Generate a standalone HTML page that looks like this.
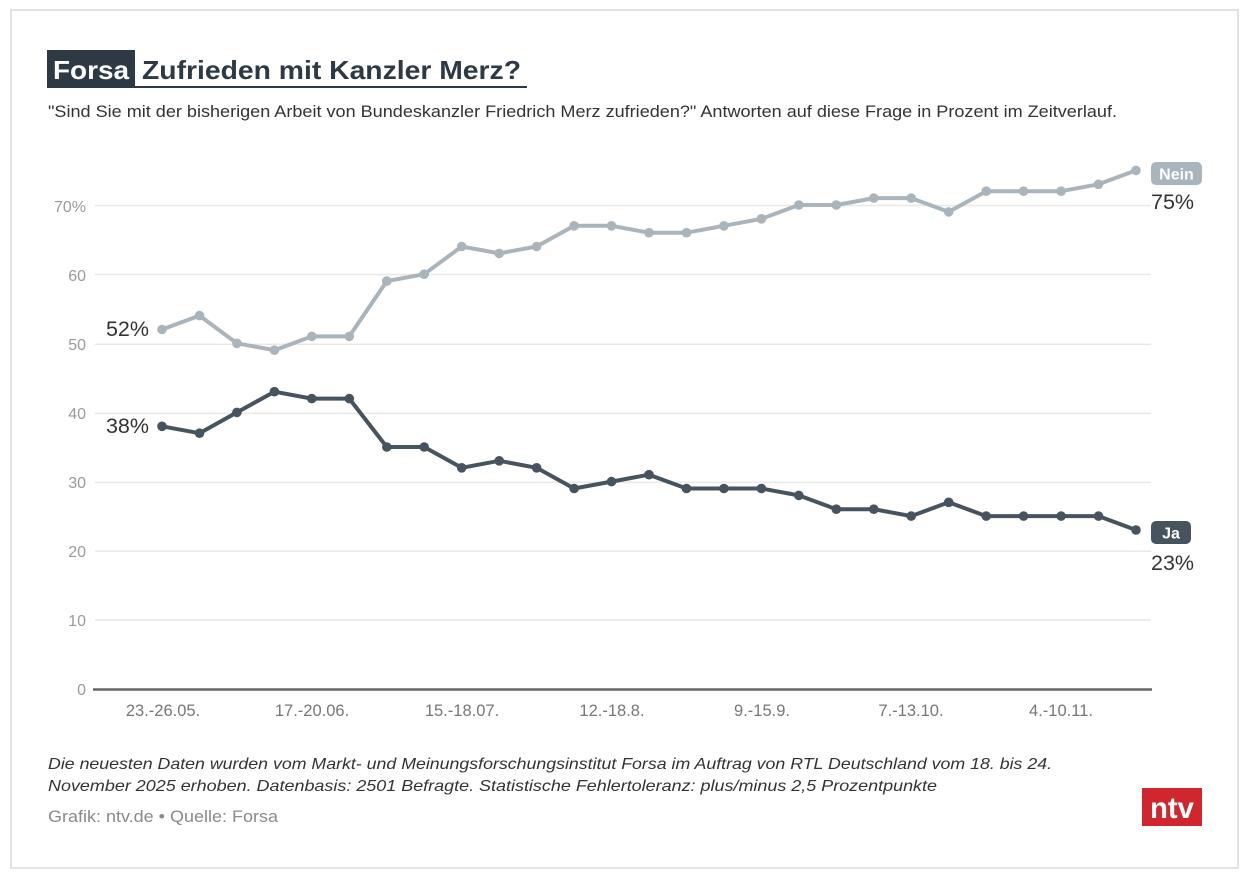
<!DOCTYPE html>
<html><head><meta charset="utf-8"><style>
html,body{margin:0;padding:0;background:#fff;}
svg{display:block;}
text{font-family:"Liberation Sans","DejaVu Sans",sans-serif;}
</style></head><body>
<svg width="1250" height="880" viewBox="0 0 1250 880" xmlns="http://www.w3.org/2000/svg">
<defs>
<marker id="mn" markerUnits="userSpaceOnUse" markerWidth="12" markerHeight="12" refX="6" refY="6"><circle cx="6" cy="6" r="4.8" fill="#a9b4bd"/></marker>
<marker id="mj" markerUnits="userSpaceOnUse" markerWidth="12" markerHeight="12" refX="6" refY="6"><circle cx="6" cy="6" r="4.8" fill="#47535e"/></marker>
</defs>
<rect x="0" y="0" width="1250" height="880" fill="#fff"/>
<rect x="11" y="10" width="1227" height="858" fill="#fff" stroke="#e0e3e6" stroke-width="2"/>

<!-- Title -->
<rect x="47" y="50" width="88" height="38" fill="#2d3a45"/>
<text x="53" y="79" font-size="26" font-weight="bold" fill="#fff" textLength="76" lengthAdjust="spacingAndGlyphs">Forsa</text>
<text x="142" y="79" font-size="26" font-weight="bold" fill="#2d3a45" textLength="379" lengthAdjust="spacingAndGlyphs">Zufrieden mit Kanzler Merz?</text>
<rect x="47" y="86" width="480" height="2" fill="#2d3a45"/>
<text x="48" y="117" font-size="16.5" fill="#333" textLength="1069" lengthAdjust="spacingAndGlyphs">"Sind Sie mit der bisherigen Arbeit von Bundeskanzler Friedrich Merz zufrieden?" Antworten auf diese Frage in Prozent im Zeitverlauf.</text>

<!-- Grid -->
<g stroke="#e8e8e8" stroke-width="1.5">
<line x1="95" y1="620.1" x2="1151" y2="620.1"/>
<line x1="95" y1="551.3" x2="1151" y2="551.3"/>
<line x1="95" y1="482.4" x2="1151" y2="482.4"/>
<line x1="95" y1="413.4" x2="1151" y2="413.4"/>
<line x1="95" y1="344.3" x2="1151" y2="344.3"/>
<line x1="95" y1="274.5" x2="1151" y2="274.5"/>
<line x1="95" y1="205.5" x2="1151" y2="205.5"/>
</g>
<line x1="93" y1="689.5" x2="1152" y2="689.5" stroke="#666" stroke-width="2.5"/>

<!-- Y labels -->
<g font-size="16" fill="#9a9a9a" text-anchor="end">
<text x="86" y="695">0</text>
<text x="86" y="626">10</text>
<text x="86" y="557">20</text>
<text x="86" y="488">30</text>
<text x="86" y="419">40</text>
<text x="86" y="350">50</text>
<text x="86" y="281">60</text>
<text x="86" y="212">70%</text>
</g>

<!-- X labels -->
<g font-size="16.5" fill="#777" text-anchor="middle">
<text x="163" y="716">23.-26.05.</text>
<text x="312" y="716">17.-20.06.</text>
<text x="462" y="716">15.-18.07.</text>
<text x="612" y="716">12.-18.8.</text>
<text x="762" y="716">9.-15.9.</text>
<text x="911" y="716">7.-13.10.</text>
<text x="1061" y="716">4.-10.11.</text>
</g>

<!-- Series -->
<polyline fill="none" stroke="#a9b4bd" stroke-width="4" stroke-linejoin="round" marker-start="url(#mn)" marker-mid="url(#mn)" marker-end="url(#mn)"
points="162,329.5 199.5,315.6 236.9,343.3 274.4,350.2 311.8,336.4 349.3,336.4 386.8,281.1 424.2,274.2 461.7,246.5 499.2,253.4 536.6,246.5 574.1,225.8 611.5,225.8 649,232.7 686.5,232.7 723.9,225.8 761.4,218.8 798.8,205 836.3,205 873.8,198.1 911.2,198.1 948.7,211.9 986.2,191.2 1023.6,191.2 1061.1,191.2 1098.5,184.3 1136,170.4"/>
<polyline fill="none" stroke="#47535e" stroke-width="4" stroke-linejoin="round" marker-start="url(#mj)" marker-mid="url(#mj)" marker-end="url(#mj)"
points="162,426.3 199.5,433.2 236.9,412.4 274.4,391.7 311.8,398.6 349.3,398.6 386.8,447 424.2,447 461.7,467.8 499.2,460.8 536.6,467.8 574.1,488.5 611.5,481.6 649,474.7 686.5,488.5 723.9,488.5 761.4,488.5 798.8,495.4 836.3,509.2 873.8,509.2 911.2,516.1 948.7,502.3 986.2,516.1 1023.6,516.1 1061.1,516.1 1098.5,516.1 1136,530"/>

<!-- Start annotations -->
<g font-size="21.5" fill="#333" text-anchor="end">
<text x="149" y="336">52%</text>
<text x="149" y="433">38%</text>
</g>

<!-- End labels -->
<rect x="1151" y="162" width="51" height="23" rx="5" fill="#a9b4bd"/>
<text x="1176.5" y="179.5" font-size="16" font-weight="bold" fill="#fff" text-anchor="middle">Nein</text>
<text x="1151" y="209" font-size="21.5" fill="#333">75%</text>
<rect x="1151" y="521" width="40" height="23" rx="5" fill="#47535e"/>
<text x="1171" y="538.5" font-size="16" font-weight="bold" fill="#fff" text-anchor="middle">Ja</text>
<text x="1151" y="570" font-size="21.5" fill="#333">23%</text>

<!-- Footer -->
<g font-size="16" font-style="italic" fill="#333">
<text x="48" y="769" textLength="1004" lengthAdjust="spacingAndGlyphs">Die neuesten Daten wurden vom Markt- und Meinungsforschungsinstitut Forsa im Auftrag von RTL Deutschland vom 18. bis 24.</text>
<text x="48" y="791" textLength="889" lengthAdjust="spacingAndGlyphs">November 2025 erhoben. Datenbasis: 2501 Befragte. Statistische Fehlertoleranz: plus/minus 2,5 Prozentpunkte</text>
</g>
<text x="48" y="822" font-size="16.5" fill="#8a8a8a" textLength="230" lengthAdjust="spacingAndGlyphs">Grafik: ntv.de • Quelle: Forsa</text>

<!-- ntv logo -->
<rect x="1142" y="788" width="60" height="38" fill="#d0262e"/>
<text x="1172" y="818" font-size="30" font-weight="bold" fill="#fff" text-anchor="middle" textLength="44" lengthAdjust="spacingAndGlyphs">ntv</text>
</svg>
</body></html>
